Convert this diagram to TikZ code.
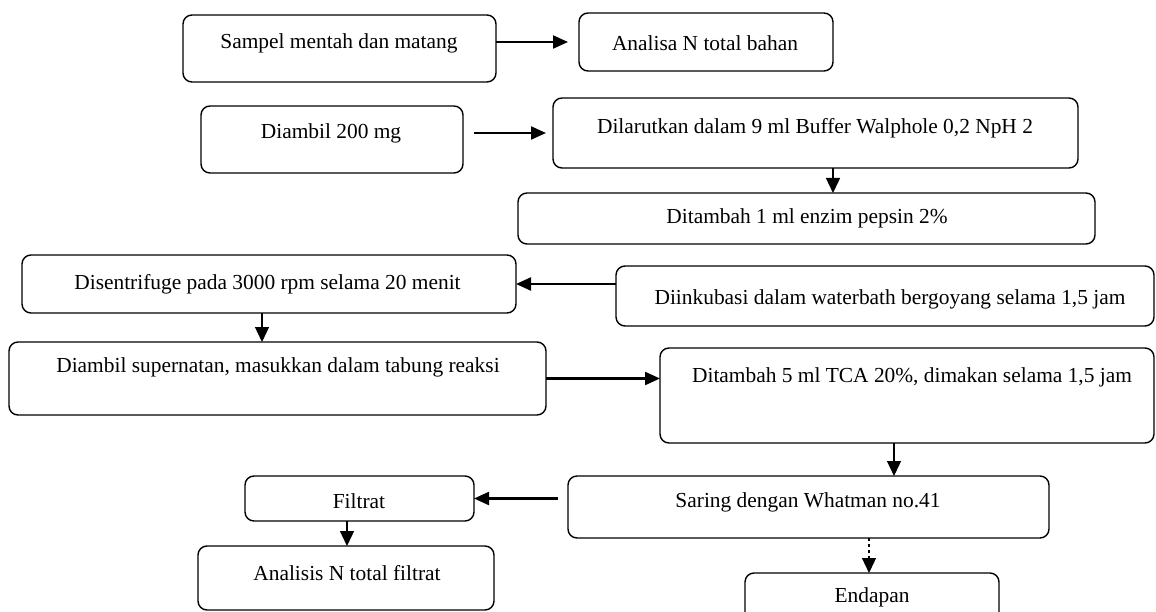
\documentclass[tikz,border=0pt]{standalone}
\usepackage{fontspec}
\setmainfont{Liberation Serif}
\usetikzlibrary{arrows.meta}
\begin{document}
\begin{tikzpicture}[x=1pt,y=-1pt,
  box/.style={draw=black, line width=1.4pt, rounded corners=9pt, inner sep=0pt, outer sep=0pt},
  txt/.style={inner sep=0pt, font=\fontsize{21.4}{25}\selectfont},
  arrh/.style={-{Triangle[length=15pt,width=13pt]}, line width=2.2pt},
  arrv/.style={-{Triangle[length=15pt,width=14pt]}, line width=1.3pt},
  arrd/.style={arrv, dash pattern=on 3pt off 3pt}]
\useasboundingbox (0,0) rectangle (1156,612);
% boxes: centre = ((x1+x2)/2,(y1+y2)/2)
\node[box, minimum width=313pt, minimum height=67pt] (b1) at (339.5,48.5) {};
\node[box, minimum width=254pt, minimum height=58pt] (b2) at (706,42) {};
\node[box, minimum width=262pt, minimum height=67pt] (b3) at (332,139.5) {};
\node[box, minimum width=525pt, minimum height=70pt] (b4) at (815.5,133) {};
\node[box, minimum width=577pt, minimum height=51pt] (b5) at (806.5,218.5) {};
\node[box, minimum width=494pt, minimum height=58pt] (b6) at (269,284) {};
\node[box, minimum width=538pt, minimum height=60pt] (b7) at (885,296) {};
\node[box, minimum width=537pt, minimum height=73pt] (b8) at (277.5,378.5) {};
\node[box, minimum width=494pt, minimum height=95pt] (b9) at (907,395.5) {};
\node[box, minimum width=481pt, minimum height=62pt] (b10) at (808.5,507) {};
\node[box, minimum width=229pt, minimum height=45pt] (b11) at (359.5,498.5) {};
\node[box, minimum width=296pt, minimum height=64pt] (b12) at (346,578) {};
\node[box, minimum width=254pt, minimum height=70pt] (b13) at (872,608) {};
% texts
\node[txt] (t1) at (339,43) {Sampel mentah dan matang};
\node[txt] (t2) at (705,43) {Analisa N total bahan};
\node[txt] (t3) at (331,133) {Diambil 200 mg};
\node[txt] (t4) at (815,128) {Dilarutkan dalam 9 ml Buffer Walphole 0,2 NpH 2};
\node[txt] (t5) at (807,218) {Ditambah 1 ml enzim pepsin 2\%};
\node[txt] (t6) at (267.5,284) {Disentrifuge pada 3000 rpm selama 20 menit};
\node[txt] (t7) at (890,299) {Diinkubasi dalam waterbath bergoyang selama 1,5 jam};
\node[txt] (t8) at (278,367) {Diambil supernatan, masukkan dalam tabung reaksi};
\node[txt] (t9) at (912,377) {Ditambah 5 ml TCA 20\%, dimakan selama 1,5 jam};
\node[txt] (t10) at (808,502) {Saring dengan Whatman no.41};
\node[txt] (t11) at (359,501) {Filtrat};
\node[txt] (t12) at (347,573) {Analisis N total filtrat};
\node[txt] (t13) at (872,597) {Endapan};
% connectors
\draw[arrh, shorten >=11pt] ([yshift=6.5pt]b1.east) -- (b2.west);
\draw[arrh, shorten <=11pt, shorten >=7pt] (b3.east |- b4.west) -- (b4.west);
\draw[arrv] ([xshift=17.5pt]b4.south) -- ([xshift=17.5pt]b4.south |- b5.north);
\draw[arrh] (b7.west |- b6.east) -- (b6.east);
\draw[arrv] ([xshift=-7pt]b6.south) -- ([xshift=-7pt]b6.south |- b8.north);
\draw[arrh] (b8.east) -- (b8.east -| b9.west);
\draw[arrv] ([xshift=-13pt]b9.south) -- ([xshift=-13pt]b9.south |- b10.north);
\draw[arrh, shorten <=10pt] (b10.west |- b11.east) -- (b11.east);
\draw[arrv] ([xshift=-12.5pt]b11.south) -- ([xshift=-12.5pt]b11.south |- b12.north);
\draw[arrd] ([xshift=60.5pt]b10.south) -- ([xshift=60.5pt]b10.south |- b13.north);
\end{tikzpicture}
\end{document}
